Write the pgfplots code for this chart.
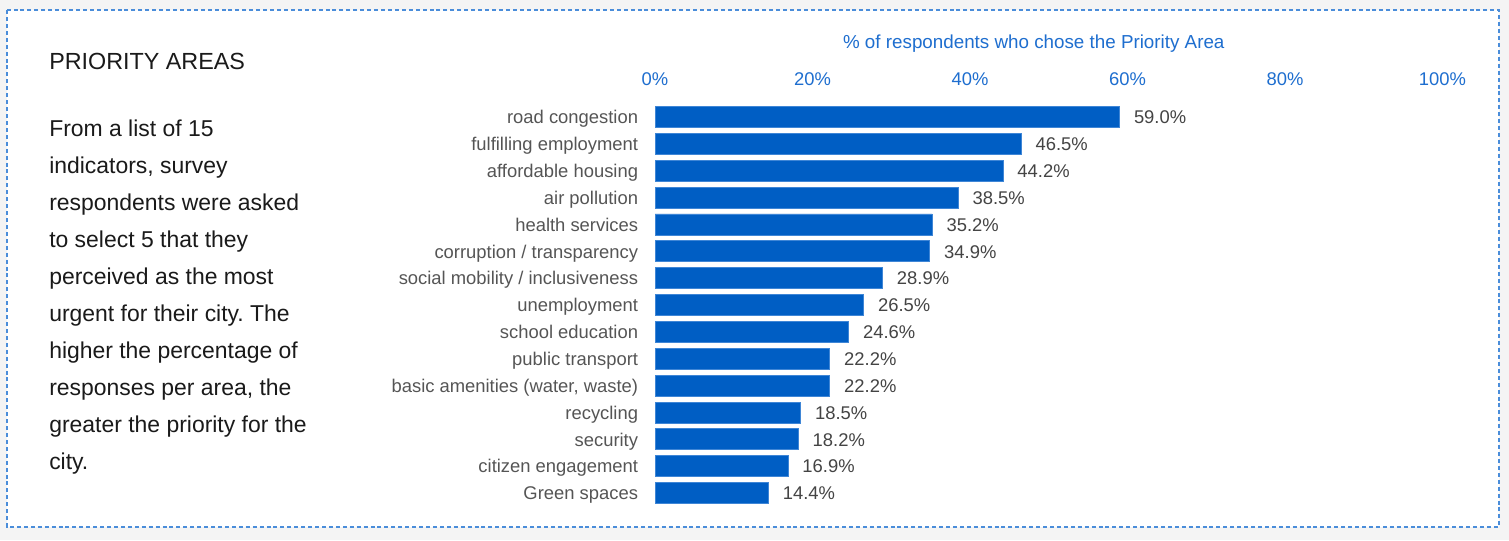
\documentclass[border=0pt]{standalone}
\usepackage{fontspec}
\setmainfont{Liberation Sans}
\usepackage{pgfplots}
\pgfplotsset{compat=1.18}
\frenchspacing
\definecolor{barblue}{HTML}{005EC4}
\definecolor{baredge}{HTML}{3F86D6}
\definecolor{tickblue}{HTML}{1E6ECF}
\definecolor{boxblue}{HTML}{4A8DDA}
\definecolor{pagegray}{HTML}{F4F4F4}
\definecolor{catgray}{HTML}{555555}
\definecolor{valgray}{HTML}{444444}
\definecolor{textblack}{HTML}{1A1A1A}
\newcommand{\axfont}{\fontsize{13.8}{16}\selectfont}
\begin{document}
\begin{tikzpicture}
% page and dashed frame (1px = 0.75pt)
\fill[pagegray] (0,0) rectangle (1131.75pt,-405pt);
\fill[white] (5.25pt,-7.5pt) rectangle (1124.25pt,-395.25pt);
\draw[boxblue, line width=0.9pt, dash pattern=on 3pt off 2.2pt]
  (5.25pt,-7.5pt) rectangle (1124.25pt,-395.25pt);

% left panel
\node[anchor=west, inner sep=0pt, text=textblack, font=\fontsize{17.5}{20}\selectfont]
  at (36.75pt,-45.75pt) {PRIORITY AREAS};
\foreach \ln [count=\i from 0] in {From a list of 15,
    {indicators, survey},
    respondents were asked,
    to select 5 that they,
    perceived as the most,
    urgent for their city. The,
    higher the percentage of,
    {responses per area, the},
    greater the priority for the,
    city.}{
  \node[anchor=base west, inner sep=0pt, text=textblack, font=\fontsize{17.2}{20}\selectfont]
    at (36.75pt,{-(136+37.1*\i)*0.75pt}) {\ln};
}

\begin{axis}[
  at={(491.25pt,-77.7pt)}, anchor=north west,
  scale only axis, width=590.6pt, height=302.2pt,
  xmin=0, xmax=100, ymin=-0.5, ymax=14.5, y dir=reverse,
  xbar, bar width=15.75pt,
  /pgf/number format/assume math mode=true,
  axis line style={draw=none}, tick style={draw=none},
  xtick={0,20,...,100}, xticklabel pos=upper,
  xticklabel={\pgfmathprintnumber{\tick}\%},
  xticklabel style={anchor=base, inner sep=0pt, yshift=13.5pt, text=tickblue, font=\axfont},
  xlabel={\% of respondents who chose the Priority Area},
  xlabel style={at={(axis description cs:0.481,1)}, anchor=base, inner sep=0pt,
    yshift=41.2pt, text=tickblue, font=\fontsize{14.1}{16}\selectfont},
  ytick={0,...,14},
  yticklabels={road congestion, fulfilling employment, affordable housing,
    air pollution, health services, corruption / transparency,
    social mobility / inclusiveness, unemployment, school education,
    public transport, {basic amenities (water, waste)}, recycling, security,
    citizen engagement, Green spaces},
  yticklabel style={anchor=east, inner sep=0pt, xshift=-8.25pt, text=catgray,
    font=\axfont, text height=12.8pt, text depth=2.8pt},
  point meta=x,
  nodes near coords={\pgfmathprintnumber[fixed,fixed zerofill,precision=1]{\pgfplotspointmeta}\%},
  nodes near coords style={anchor=west, inner sep=0pt, xshift=10.5pt, text=valgray,
    font=\axfont, text height=12.8pt, text depth=2.8pt},
]
\addplot[fill=barblue, draw=baredge, line width=0.6pt] coordinates {
  (59.0,0) (46.5,1) (44.2,2) (38.5,3) (35.2,4) (34.9,5) (28.9,6) (26.5,7)
  (24.6,8) (22.2,9) (22.2,10) (18.5,11) (18.2,12) (16.9,13) (14.4,14)
};
\end{axis}
\end{tikzpicture}
\end{document}
